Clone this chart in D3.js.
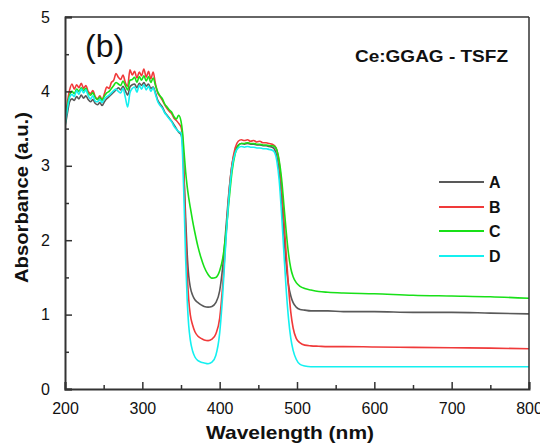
<!DOCTYPE html>
<html>
<head>
<meta charset="utf-8">
<script src="https://d3js.org/d3.v7.min.js"></script>
<style>
  body { margin: 0; background: #fff; }
  svg { display: block; }
  text { font-family: "Liberation Sans", Arial, sans-serif; fill: #111; }
  .spec { fill: none; stroke-width: 1.6px; stroke-linejoin: round; }
</style>
</head>
<body>
<div id="chart"></div>
<script>
// wavelength grid (nm), dense scan part then the smooth part
const wavelength = [
  200,203,206,209,212,215,218,221,224,227,230,233,236,239,242,245,248,251,254,257,
  260,263,266,269,272,275,278,281,284,287,290,293,296,299,302,305,308,311,314,317,
  320,323,326,329,332,335,338,341,344,347,350,
  352,354,356,358,360,362,365,368,372,376,380,385,390,395,400,404,408,412,416,420,
  424,428,432,436,440,444,448,452,456,460,464,468,471,474,477,480,483,486,489,492,
  495,499,504,510,518,528,540,560,600,650,700,750,800
];

const absA = [
  3.52,3.70,3.86,3.90,3.88,3.93,3.90,3.95,3.91,3.94,3.89,3.86,3.89,3.84,3.82,3.85,3.81,3.86,3.90,3.93,
  3.96,3.99,4.02,4.05,4.02,4.07,4.01,3.95,4.06,4.09,4.10,4.05,4.11,4.08,4.12,4.07,4.10,4.04,4.06,3.98,
  3.88,3.83,3.79,3.72,3.68,3.64,3.60,3.55,3.50,3.45,3.42,
  3.30,2.85,2.30,1.82,1.52,1.37,1.26,1.20,1.16,1.13,1.11,1.10,1.11,1.16,1.32,1.65,2.15,2.65,3.02,3.20,
  3.28,3.30,3.29,3.30,3.29,3.29,3.28,3.28,3.27,3.27,3.26,3.25,3.22,3.12,2.92,2.55,2.08,1.68,1.40,1.25,
  1.16,1.10,1.07,1.06,1.05,1.05,1.05,1.04,1.04,1.03,1.03,1.02,1.01
];

const absB = [
  3.58,3.85,4.02,4.10,4.03,4.09,4.05,4.11,4.04,4.08,4.00,3.97,4.01,3.93,3.90,3.94,3.89,3.97,4.06,4.04,
  4.12,4.15,4.24,4.19,4.16,4.22,4.12,4.07,4.29,4.22,4.27,4.18,4.26,4.21,4.30,4.19,4.27,4.17,4.26,4.10,
  3.98,3.93,3.88,3.82,3.77,3.73,3.70,3.64,3.61,3.57,3.52,
  3.38,2.80,2.12,1.56,1.20,1.00,0.86,0.77,0.71,0.68,0.66,0.65,0.67,0.74,0.95,1.40,2.02,2.62,3.02,3.24,
  3.33,3.35,3.34,3.35,3.33,3.34,3.32,3.33,3.31,3.31,3.30,3.29,3.27,3.21,3.04,2.74,2.30,1.82,1.38,1.03,
  0.82,0.68,0.62,0.59,0.58,0.575,0.57,0.57,0.565,0.56,0.555,0.55,0.54
];

const absC = [
  3.56,3.80,3.95,4.00,3.97,4.03,4.00,4.05,4.01,4.04,3.97,3.95,3.98,3.92,3.89,3.92,3.88,3.94,3.98,4.00,
  4.04,4.08,4.12,4.10,4.08,4.14,4.08,4.02,4.15,4.16,4.19,4.12,4.20,4.15,4.21,4.14,4.20,4.12,4.18,4.08,
  3.99,3.94,3.90,3.83,3.79,3.75,3.72,3.66,3.63,3.68,3.60,
  3.45,3.18,2.92,2.72,2.57,2.44,2.26,2.10,1.91,1.76,1.64,1.54,1.49,1.50,1.59,1.76,2.08,2.52,2.92,3.16,
  3.27,3.30,3.30,3.31,3.30,3.30,3.29,3.29,3.28,3.28,3.27,3.27,3.26,3.21,3.07,2.83,2.48,2.12,1.82,1.62,
  1.51,1.43,1.38,1.35,1.33,1.31,1.30,1.29,1.28,1.26,1.25,1.24,1.22
];

const absD = [
  3.54,3.76,3.92,3.96,3.93,4.01,3.96,4.03,3.98,4.02,3.94,3.90,3.94,3.87,3.86,3.89,3.85,3.90,3.93,3.95,
  3.98,4.01,4.03,4.00,3.98,4.04,3.92,3.79,3.98,4.04,4.06,3.99,4.08,4.03,4.09,4.02,4.07,4.00,4.05,3.96,
  3.86,3.81,3.77,3.71,3.67,3.63,3.59,3.53,3.49,3.46,3.44,
  3.15,2.50,1.75,1.20,0.85,0.66,0.51,0.43,0.38,0.36,0.35,0.34,0.36,0.45,0.75,1.28,1.98,2.58,2.98,3.17,
  3.24,3.26,3.25,3.26,3.25,3.25,3.24,3.24,3.23,3.23,3.22,3.21,3.18,3.06,2.80,2.36,1.84,1.34,0.95,0.68,
  0.52,0.40,0.33,0.31,0.30,0.30,0.30,0.30,0.30,0.30,0.30,0.30,0.30
];

const seriesNames = ["A", "B", "C", "D"];
const seriesColors = ["#595959", "#f03a3a", "#18e018", "#14f0f0"];
const xTicks = [200, 300, 400, 500, 600, 700, 800];
const yTicks = [0, 1, 2, 3, 4, 5];

const W = 540, H = 444;
const margin = {top: 17, right: 11, bottom: 55, left: 65};
const iw = W - margin.left - margin.right;
const ih = H - margin.top - margin.bottom;

const svg = d3.select("#chart").append("svg").attr("width", W).attr("height", H);

const x = d3.scaleLinear().domain([200, 800]).range([0, iw]);
const y = d3.scaleLinear().domain([0, 5]).range([ih, 0]);

const g = svg.append("g").attr("transform", `translate(${margin.left},${margin.top})`);

g.append("defs").append("clipPath").attr("id", "clip")
  .append("rect").attr("width", iw).attr("height", ih);

// spectra
const allSeries = [absA, absB, absC, absD];
const line = d3.line()
  .x(d => x(d[0]))
  .y(d => y(d[1]))
  .curve(d3.curveMonotoneX);

const plot = g.append("g").attr("clip-path", "url(#clip)");
allSeries.forEach((vals, i) => {
  const pts = wavelength.map((w, k) => [w, vals[k]]).filter(p => p[1] != null);
  plot.append("path")
    .attr("class", "spec")
    .attr("stroke", seriesColors[i])
    .attr("d", line(pts));
});

// frame
const axisColor = "#333";
g.append("line").attr("x1", 0).attr("x2", iw).attr("y1", 0).attr("y2", 0)
  .attr("stroke", axisColor).attr("stroke-width", 1.5);
g.append("line").attr("x1", iw).attr("x2", iw).attr("y1", 0).attr("y2", ih)
  .attr("stroke", axisColor).attr("stroke-width", 1.5);

// axes, ticks pointing inward
const xAxis = d3.axisBottom(x).tickValues(xTicks).tickSize(-7).tickPadding(14).tickFormat(d3.format("d"));
const yAxis = d3.axisLeft(y).tickValues(yTicks).tickSize(-7).tickPadding(15).tickFormat(d3.format("d"));

const gx = g.append("g").attr("transform", `translate(0,${ih})`).call(xAxis);
const gy = g.append("g").call(yAxis);

// minor ticks
const xMinor = d3.axisBottom(x).tickValues([250, 350, 450, 550, 650, 750]).tickSize(-4).tickFormat("");
const yMinor = d3.axisLeft(y).tickValues([0.5, 1.5, 2.5, 3.5, 4.5]).tickSize(-4).tickFormat("");
const gxm = g.append("g").attr("transform", `translate(0,${ih})`).call(xMinor);
const gym = g.append("g").call(yMinor);

[gx, gy, gxm, gym].forEach(a => {
  a.select(".domain").attr("stroke", axisColor).attr("stroke-width", 2);
  a.selectAll(".tick line").attr("stroke", axisColor).attr("stroke-width", 1.5);
  a.selectAll(".tick text").attr("font-size", 16).attr("fill", "#111")
    .attr("font-family", "Liberation Sans, Arial, sans-serif");
});
gxm.select(".domain").remove();
gym.select(".domain").remove();

// axis titles
svg.append("text")
  .attr("x", margin.left + iw / 2 - 7).attr("y", 439)
  .attr("text-anchor", "middle")
  .attr("font-size", 19).attr("font-weight", "bold")
  .attr("textLength", 168).attr("lengthAdjust", "spacingAndGlyphs")
  .text("Wavelength (nm)");

svg.append("text")
  .attr("transform", "translate(28,197.5) rotate(-90)")
  .attr("text-anchor", "middle")
  .attr("font-size", 19).attr("font-weight", "bold")
  .attr("textLength", 171).attr("lengthAdjust", "spacingAndGlyphs")
  .text("Absorbance (a.u.)");

// annotations
svg.append("text")
  .attr("x", 85).attr("y", 57)
  .attr("font-size", 32)
  .text("(b)");

svg.append("text")
  .attr("x", 355).attr("y", 62)
  .attr("font-size", 17).attr("font-weight", "bold")
  .attr("textLength", 153).attr("lengthAdjust", "spacingAndGlyphs")
  .text("Ce:GGAG - TSFZ");

// legend
const legendY = [182, 207, 231, 256];
const legend = svg.append("g");
seriesNames.forEach((name, i) => {
  legend.append("line")
    .attr("x1", 439).attr("x2", 484)
    .attr("y1", legendY[i]).attr("y2", legendY[i])
    .attr("stroke", seriesColors[i]).attr("stroke-width", 2);
  legend.append("text")
    .attr("x", 489).attr("y", legendY[i] + 6)
    .attr("font-size", 16).attr("font-weight", "bold")
    .text(name);
});
</script>
</body>
</html>
